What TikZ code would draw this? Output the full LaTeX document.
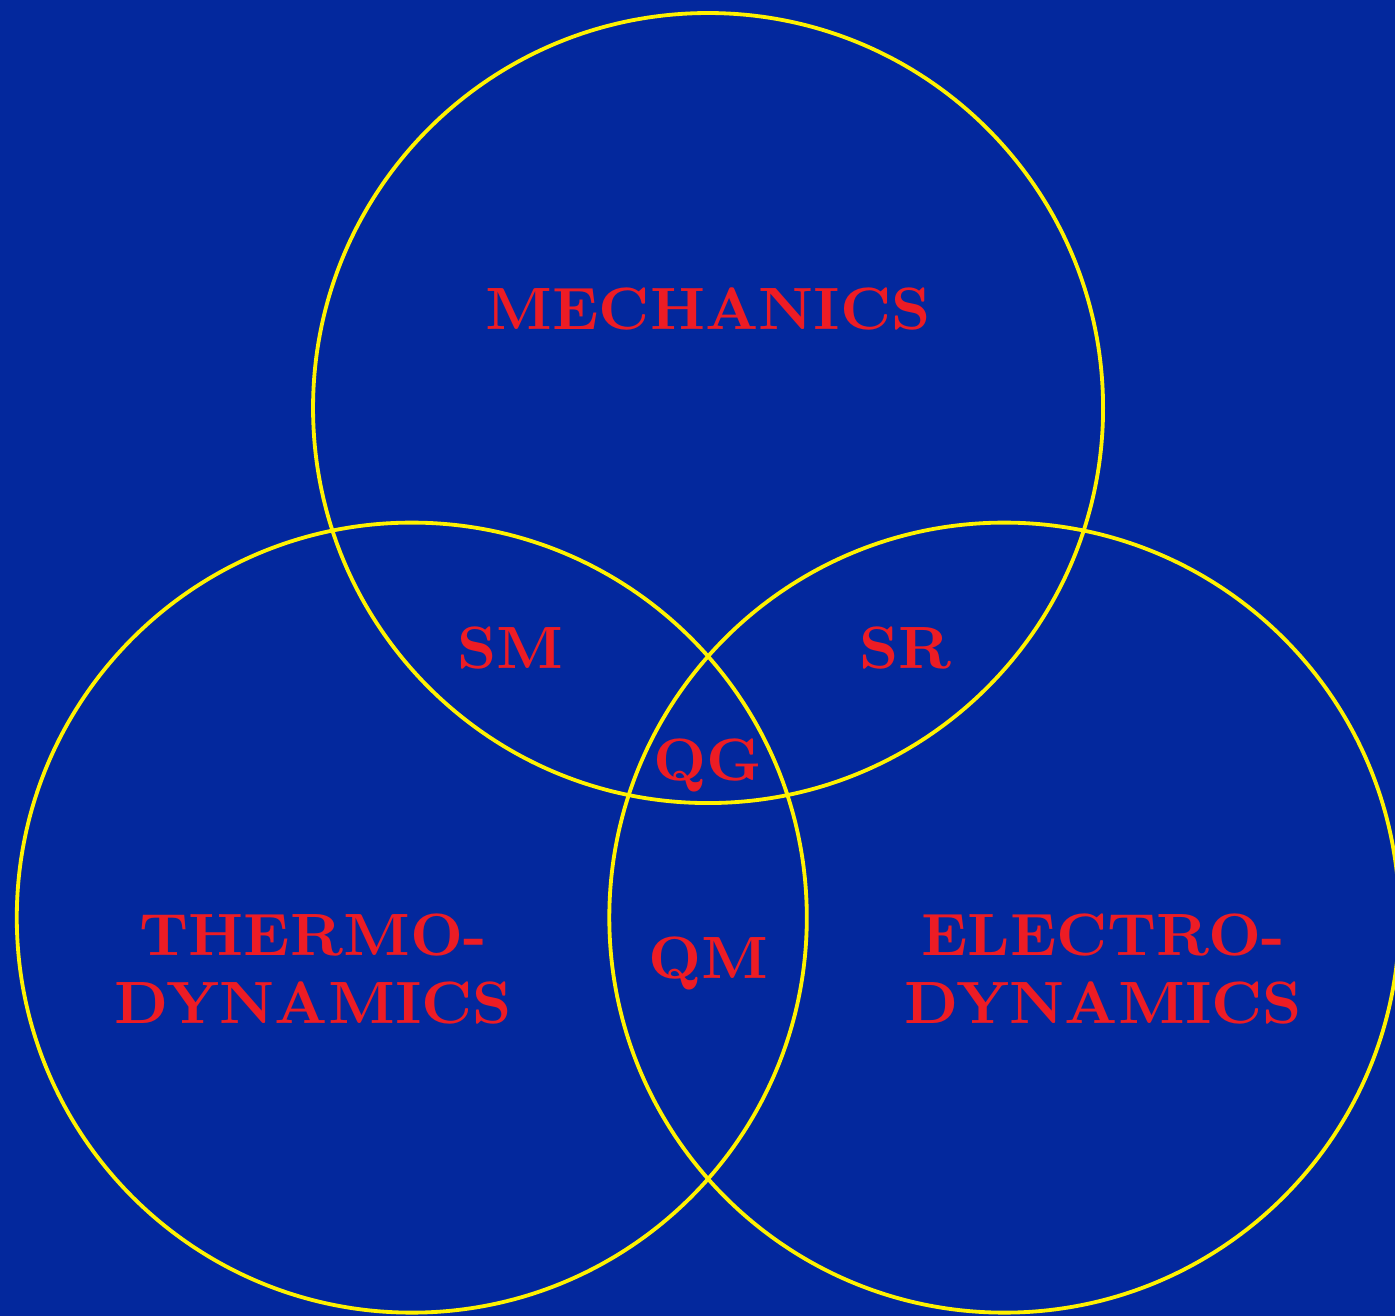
\documentclass[tikz,border=0pt]{standalone}
\usepackage{fontspec}
\usepackage{tikz}
\usetikzlibrary{positioning,calc}
\definecolor{VennBlue}{HTML}{03289D}
\definecolor{VennRed}{HTML}{ED1C24}
\definecolor{VennYellow}{HTML}{FFF200}

\begin{document}
\begin{tikzpicture}[
    field/.style={circle, draw=VennYellow, line width=0.55pt, minimum size=40mm,
      inner sep=0pt},
    tag/.style={font=\fontsize{8.6}{9.7}\selectfont\bfseries, text=VennRed,
      align=center, anchor=base, inner sep=0pt}
  ]
    \useasboundingbox (-3.585,-4.597) rectangle (3.478,2.066);
    \fill[VennBlue] (-3.585,-4.597) rectangle (3.478,2.066);
    \node[field] (mech) at (0,0) {};
    \node[field] (thermo) at (-1.5,-2.58) {};
    \node[field] (electro) at (1.5,-2.58) {};
    \node[tag] (mechtag) at ($(mech)+(0,0.398)$) {MECHANICS};
    \node[tag] (thermotag) at ($(thermo)+(-0.5,-0.535)$) {THERMO-\\DYNAMICS};
    \node[tag] (electrotag) at ($(electro)+(0.5,-0.535)$) {ELECTRO-\\DYNAMICS};
    \node[tag] (sm) at ($(mech)+(-1,-1.32)$) {SM};
    \node[tag] (sr) at ($(mech)+(1,-1.32)$) {SR};
    \node[tag] (qg) at ($(mech)+(0,-1.884)$) {QG};
    \node[tag] (qm) at ($(mech)+(0,-2.886)$) {QM};
  \end{tikzpicture}
\end{document}
